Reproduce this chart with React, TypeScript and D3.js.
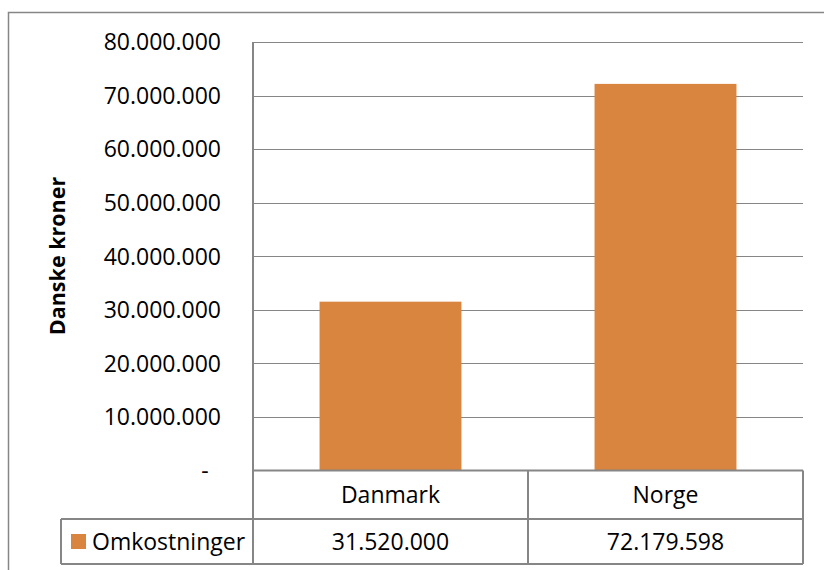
import React from "react";
import * as d3 from "d3";

const categories = ["Danmark", "Norge"];
const seriesName = "Omkostninger";
const values = [31520000, 72179598];
const yTicks = [0, 10000000, 20000000, 30000000, 40000000, 50000000, 60000000, 70000000, 80000000];
const yTitle = "Danske kroner";

const W = 824;
const H = 570;
const FONT = "'Open Sans', sans-serif";
const GRID = "#868686";
const BAR = "#d9843f";

const locale = d3.formatLocale({ decimal: ",", thousands: ".", grouping: [3], currency: ["", ""] });
const fmt = locale.format(",.0f");

export default function App() {
  const left = 253;
  const right = 803;
  const top = 42;
  const zeroY = 470.5;
  const catRowBottom = 519;
  const valRowBottom = 564;
  const legendLeft = 61;

  const x = d3.scaleBand<string>().domain(categories).range([left, right]).paddingInner(0.484).paddingOuter(0.242);
  const y = d3.scaleLinear().domain([0, 80000000]).range([zeroY, top]);
  const step = x.step();
  const catEdges = categories.map((_, i) => left + i * step);

  return (
    <svg width={W} height={H} style={{ position: "fixed", left: 0, top: 0, display: "block", background: "#fff" }} fontFamily={FONT}>
      {/* outer chart border */}
      <rect x={8.5} y={12.5} width={W} height={H} fill="none" stroke={GRID} strokeWidth={1.5} />
      {/* gridlines */}
      {yTicks.filter((t) => t > 0).map((t) => (
        <line key={t} x1={left} x2={right} y1={Math.round(y(t)) + 0.5} y2={Math.round(y(t)) + 0.5} stroke={GRID} strokeWidth={1.2} />
      ))}
      {/* y tick labels */}
      {yTicks.map((t) => (
        <text key={"l" + t} x={t === 0 ? 205 : 221} y={y(t)} dy="0.36em" textAnchor={t === 0 ? "middle" : "end"} fontSize={23} fill="#000">
          {t === 0 ? "-" : fmt(t)}
        </text>
      ))}
      {/* y title */}
      <text transform={`translate(65,256) rotate(-90)`} textAnchor="middle" fontSize={21.5} fontWeight="bold" fill="#000">
        {yTitle}
      </text>
      {/* bars */}
      {categories.map((c, i) => (
        <rect key={c} x={x(c)} y={y(values[i])} width={x.bandwidth()} height={zeroY - y(values[i])} fill={BAR} />
      ))}
      {/* axis + table lines */}
      <g stroke={GRID} strokeWidth={2} fill="none">
        <line x1={left} x2={left} y1={top} y2={valRowBottom} />
        <line x1={left} x2={right} y1={zeroY} y2={zeroY} />
        <line x1={legendLeft} x2={right} y1={catRowBottom} y2={catRowBottom} />
        <line x1={legendLeft} x2={right} y1={valRowBottom} y2={valRowBottom} />
        <line x1={legendLeft} x2={legendLeft} y1={catRowBottom} y2={valRowBottom} />
        {catEdges.slice(1).map((e) => (
          <line key={e} x1={e} x2={e} y1={zeroY} y2={valRowBottom} />
        ))}
        <line x1={right} x2={right} y1={zeroY} y2={valRowBottom} />
      </g>
      {/* category labels */}
      {categories.map((c, i) => (
        <text key={"c" + c} x={catEdges[i] + step / 2} y={(zeroY + catRowBottom) / 2} dy="0.36em" textAnchor="middle" fontSize={23} fill="#000">
          {c}
        </text>
      ))}
      {/* values row */}
      {categories.map((c, i) => (
        <text key={"v" + c} x={catEdges[i] + step / 2} y={(catRowBottom + valRowBottom) / 2} dy="0.36em" textAnchor="middle" fontSize={23} fill="#000">
          {fmt(values[i])}
        </text>
      ))}
      {/* legend key */}
      <rect x={71} y={534} width={15} height={15} fill={BAR} />
      <text x={92} y={(catRowBottom + valRowBottom) / 2} dy="0.36em" fontSize={23} fill="#000">
        {seriesName}
      </text>
    </svg>
  );
}
